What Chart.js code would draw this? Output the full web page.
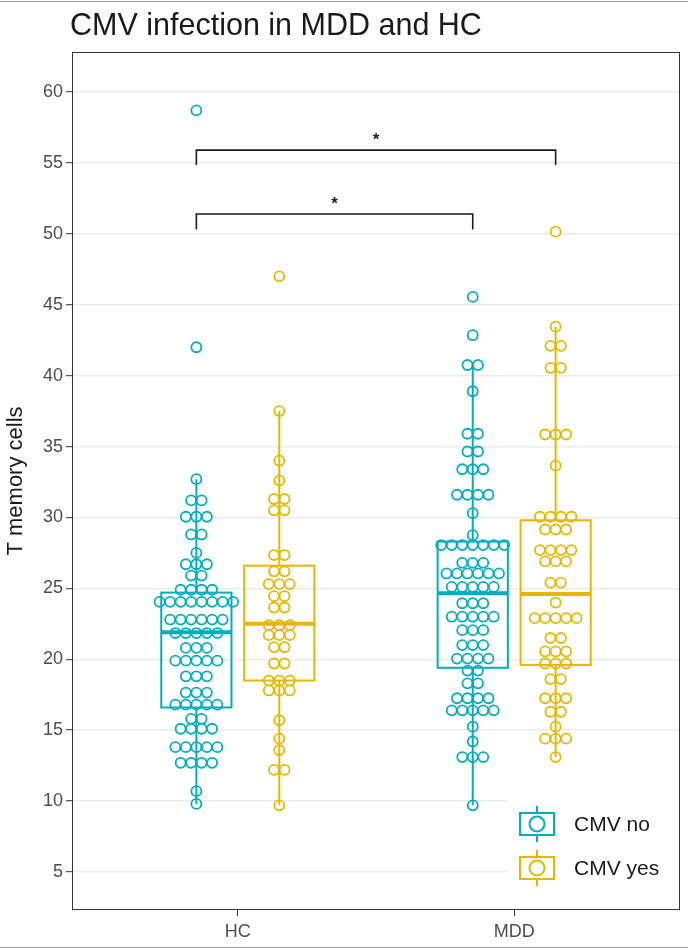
<!DOCTYPE html>
<html>
<head>
    <title>CMV infection in MDD and HC</title>
    <script src="https://cdn.jsdelivr.net/npm/chart.js"></script>
    <style>
        html, body { margin: 0; padding: 0; background: #fff; }
        #chart-container { position: relative; width: 688px; height: 951px; }
        .rule { position: absolute; left: 0; width: 688px; height: 1px; background: #a0a0a0; }
    </style>
</head>
<body>
    <div id="chart-container">
        <canvas id="box-chart" width="688" height="951"></canvas>
        <div class="rule" style="top:1px"></div>
        <div class="rule" style="top:947px"></div>
    </div>

    <script>
        // categories and series
        var xLabels = ['HC', 'MDD'];
        var seriesNames = ['CMV no', 'CMV yes'];
        var seriesColors = ['#00AFBB', '#E7B800'];
        var yTicks = [5, 10, 15, 20, 25, 30, 35, 40, 45, 50, 55, 60];

        // one value per participant
        var hcNo = [58.7, 42.0, 32.7, 31.2, 31.2, 30.05, 30.05, 30.05, 28.8, 28.8, 27.5, 26.7, 26.7, 26.7,
            25.9, 25.9, 24.9, 24.9, 24.9, 24.9, 24.05, 24.05, 24.05, 24.05, 24.05, 24.05, 24.05, 24.05,
            22.8, 22.8, 22.8, 22.8, 22.8, 22.8, 21.85, 21.85, 21.85, 21.85, 21.85, 20.8, 20.8, 20.8,
            19.9, 19.9, 19.9, 19.9, 19.9, 18.8, 18.8, 18.8, 17.65, 17.65, 17.65, 16.8, 16.8, 16.8, 16.8, 16.8,
            15.8, 15.8, 15.1, 15.1, 15.1, 15.1, 13.8, 13.8, 13.8, 13.8, 13.8, 12.7, 12.7, 12.7, 12.7, 10.7, 9.8];
        var hcYes = [47.0, 37.5, 34.0, 32.6, 31.3, 31.3, 30.5, 30.5, 27.35, 27.35, 26.2, 26.2, 25.3, 25.3, 25.3,
            24.45, 24.45, 23.65, 23.65, 22.4, 22.4, 22.4, 21.7, 21.7, 21.7, 20.85, 20.85, 19.7, 19.7,
            18.5, 18.5, 18.5, 17.8, 17.8, 17.8, 15.7, 14.4, 13.6, 12.2, 12.2, 9.7];
        var mddNo = [45.55, 42.85, 40.75, 40.75, 38.9, 35.9, 35.9, 34.65, 34.65, 33.4, 33.4, 33.4,
            31.6, 31.6, 31.6, 31.6, 30.3, 28.75, 28.05, 28.05, 28.05, 28.05, 28.05, 28.05, 28.05,
            26.8, 26.8, 26.8, 26.05, 26.05, 26.05, 26.05, 26.05, 26.05, 25.1, 25.1, 25.1, 25.1, 25.1,
            23.95, 23.95, 23.95, 23.0, 23.0, 23.0, 23.0, 23.0, 22.05, 22.05, 22.05, 21.0, 21.0, 21.0,
            20.05, 20.05, 20.05, 20.05, 19.2, 19.2, 18.3, 18.3, 17.25, 17.25, 17.25, 17.25,
            16.4, 16.4, 16.4, 16.4, 16.4, 15.25, 14.2, 13.1, 13.1, 13.1, 9.7];
        var mddYes = [50.15, 43.45, 42.1, 42.1, 40.55, 40.55, 35.85, 35.85, 35.85, 33.65,
            30.05, 30.05, 30.05, 30.05, 29.15, 29.15, 29.15, 27.7, 27.7, 27.7, 27.7, 26.9, 26.9, 26.9,
            25.4, 25.4, 24.0, 22.9, 22.9, 22.9, 22.9, 22.9, 21.5, 21.5, 20.55, 20.55, 20.55,
            19.7, 19.7, 19.7, 18.6, 18.6, 17.25, 17.25, 17.25, 16.3, 16.3, 15.25, 14.4, 14.4, 14.4, 13.1];

        // box summaries, order: HC no, HC yes, MDD no, MDD yes
        var boxLow = [9.8, 9.7, 9.7, 13.1];
        var boxQ1 = [16.6, 18.5, 19.4, 19.6];
        var boxMedian = [21.9, 22.5, 24.65, 24.6];
        var boxQ3 = [24.7, 26.6, 28.3, 29.8];
        var boxHigh = [32.7, 37.5, 40.75, 43.45];

        // significance brackets (box index from/to)
        var sigFrom = [0, 0];
        var sigTo = [2, 3];
        var sigY = [51.4, 55.9];
        var sigTipY = [50.3, 54.85];
        var sigLabel = ['*', '*'];

        var dodge = 0.15;
        var boxHalf = 0.127;
        var dotStep = 0.038;
        var font = '"Liberation Sans", Arial, sans-serif';

        function boxX(i) {
            var g = Math.floor(i / 2) + 1;
            return g + (i % 2 === 0 ? -dodge : dodge);
        }

        // centred dot-plot stacking: equal values share a row
        function dotPoints(values, xCenter) {
            var counts = {}, seen = {};
            values.forEach(function(v) { counts[v] = (counts[v] || 0) + 1; });
            return values.map(function(v) {
                var k = seen[v] || 0;
                seen[v] = k + 1;
                return { x: xCenter + (k - (counts[v] - 1) / 2) * dotStep, y: v };
            });
        }

        var groupValues = [[hcNo, hcYes], [mddNo, mddYes]];
        var datasets = seriesNames.map(function(name, s) {
            var pts = [];
            groupValues.forEach(function(g, gi) {
                pts = pts.concat(dotPoints(g[s], boxX(gi * 2 + s)));
            });
            return {
                label: name,
                data: pts,
                pointRadius: 5,
                pointBorderWidth: 1.8,
                pointBorderColor: seriesColors[s],
                pointBackgroundColor: '#ffffff',
                showLine: false
            };
        });

        var overlay = {
            id: 'overlay',
            afterDatasetsDraw: function(chart) {
                var ctx = chart.ctx, xs = chart.scales.x, ys = chart.scales.y;
                ctx.save();
                // boxes and whiskers
                for (var i = 0; i < boxQ1.length; i++) {
                    var c = seriesColors[i % 2];
                    var xc = xs.getPixelForValue(boxX(i));
                    var xl = xs.getPixelForValue(boxX(i) - boxHalf);
                    var xr = xs.getPixelForValue(boxX(i) + boxHalf);
                    ctx.strokeStyle = c;
                    ctx.lineWidth = 2;
                    ctx.beginPath();
                    ctx.moveTo(xc, ys.getPixelForValue(boxLow[i]));
                    ctx.lineTo(xc, ys.getPixelForValue(boxQ1[i]));
                    ctx.moveTo(xc, ys.getPixelForValue(boxQ3[i]));
                    ctx.lineTo(xc, ys.getPixelForValue(boxHigh[i]));
                    ctx.stroke();
                    var yq3 = ys.getPixelForValue(boxQ3[i]);
                    var yq1 = ys.getPixelForValue(boxQ1[i]);
                    ctx.strokeRect(xl, yq3, xr - xl, yq1 - yq3);
                    ctx.lineWidth = 4;
                    ctx.beginPath();
                    var ym = ys.getPixelForValue(boxMedian[i]);
                    ctx.moveTo(xl, ym);
                    ctx.lineTo(xr, ym);
                    ctx.stroke();
                }
                // brackets
                ctx.strokeStyle = '#1a1a1a';
                ctx.fillStyle = '#1a1a1a';
                ctx.lineWidth = 1.6;
                ctx.font = 'bold 17px ' + font;
                ctx.textAlign = 'center';
                ctx.textBaseline = 'bottom';
                for (var j = 0; j < sigFrom.length; j++) {
                    var x1 = xs.getPixelForValue(boxX(sigFrom[j]));
                    var x2 = xs.getPixelForValue(boxX(sigTo[j]));
                    var y = ys.getPixelForValue(sigY[j]);
                    var yt = ys.getPixelForValue(sigTipY[j]);
                    ctx.beginPath();
                    ctx.moveTo(x1, yt);
                    ctx.lineTo(x1, y);
                    ctx.lineTo(x2, y);
                    ctx.lineTo(x2, yt);
                    ctx.stroke();
                    ctx.fillText(sigLabel[j], (x1 + x2) / 2, y - 1);
                }
                ctx.restore();
            },
            afterDraw: function(chart) {
                var ctx = chart.ctx, a = chart.chartArea;
                ctx.save();
                // legend inside the panel, bottom right
                ctx.fillStyle = '#ffffff';
                ctx.fillRect(507, 794, a.right - 508, a.bottom - 795);
                seriesNames.forEach(function(name, s) {
                    var cy = 824 + s * 44;
                    var cx = 537;
                    ctx.strokeStyle = seriesColors[s];
                    ctx.lineWidth = 2;
                    ctx.beginPath();
                    ctx.moveTo(cx, cy - 18);
                    ctx.lineTo(cx, cy + 18);
                    ctx.stroke();
                    ctx.fillStyle = '#ffffff';
                    ctx.fillRect(cx - 17, cy - 11, 34, 22);
                    ctx.strokeRect(cx - 17, cy - 11, 34, 22);
                    ctx.beginPath();
                    ctx.arc(cx, cy, 7.5, 0, Math.PI * 2);
                    ctx.fill();
                    ctx.stroke();
                    ctx.fillStyle = '#1a1a1a';
                    ctx.font = '21px ' + font;
                    ctx.textAlign = 'left';
                    ctx.textBaseline = 'middle';
                    ctx.fillText(name, 574, cy + 1);
                });
                // panel border
                ctx.strokeStyle = '#333333';
                ctx.lineWidth = 1;
                ctx.strokeRect(a.left + 0.5, a.top + 0.5, a.right - a.left - 1, a.bottom - a.top - 1);
                // title
                ctx.fillStyle = '#1a1a1a';
                ctx.font = '30.5px ' + font;
                ctx.textAlign = 'left';
                ctx.textBaseline = 'alphabetic';
                ctx.fillText('CMV infection in MDD and HC', 70, 35);
                ctx.restore();
            }
        };

        var ctx = document.getElementById('box-chart').getContext('2d');
        var chart = new Chart(ctx, {
            type: 'scatter',
            data: { datasets: datasets },
            plugins: [overlay],
            options: {
                responsive: false,
                animation: false,
                events: [],
                layout: { padding: { top: 52, right: 8, left: 0, bottom: 0 } },
                plugins: {
                    legend: { display: false },
                    tooltip: { enabled: false },
                    title: { display: false }
                },
                scales: {
                    x: {
                        type: 'linear',
                        min: 0.4,
                        max: 2.6,
                        afterBuildTicks: function(s) {
                            s.ticks = xLabels.map(function(l, i) { return { value: i + 1 }; });
                        },
                        afterFit: function(s) { s.height = 41; },
                        border: { display: false },
                        grid: { drawOnChartArea: false, drawTicks: true, tickLength: 6, tickColor: '#333333', tickWidth: 1 },
                        ticks: {
                            padding: 5,
                            color: '#4d4d4d',
                            font: { family: font, size: 18 },
                            callback: function(v) { return xLabels[v - 1]; }
                        }
                    },
                    y: {
                        type: 'linear',
                        min: 2.32,
                        max: 62.82,
                        afterBuildTicks: function(s) {
                            s.ticks = yTicks.map(function(v) { return { value: v }; });
                        },
                        afterFit: function(s) { s.width = 72; },
                        border: { display: false },
                        grid: { color: '#ebebeb', lineWidth: 1.4, tickLength: 6, tickColor: '#333333', tickWidth: 1 },
                        ticks: {
                            padding: 3,
                            color: '#4d4d4d',
                            font: { family: font, size: 18 }
                        },
                        title: {
                            display: true,
                            text: 'T memory cells',
                            color: '#1a1a1a',
                            font: { family: font, size: 22 },
                            padding: { top: 3, bottom: 0 }
                        }
                    }
                }
            }
        });
    </script>
</body>
</html>
